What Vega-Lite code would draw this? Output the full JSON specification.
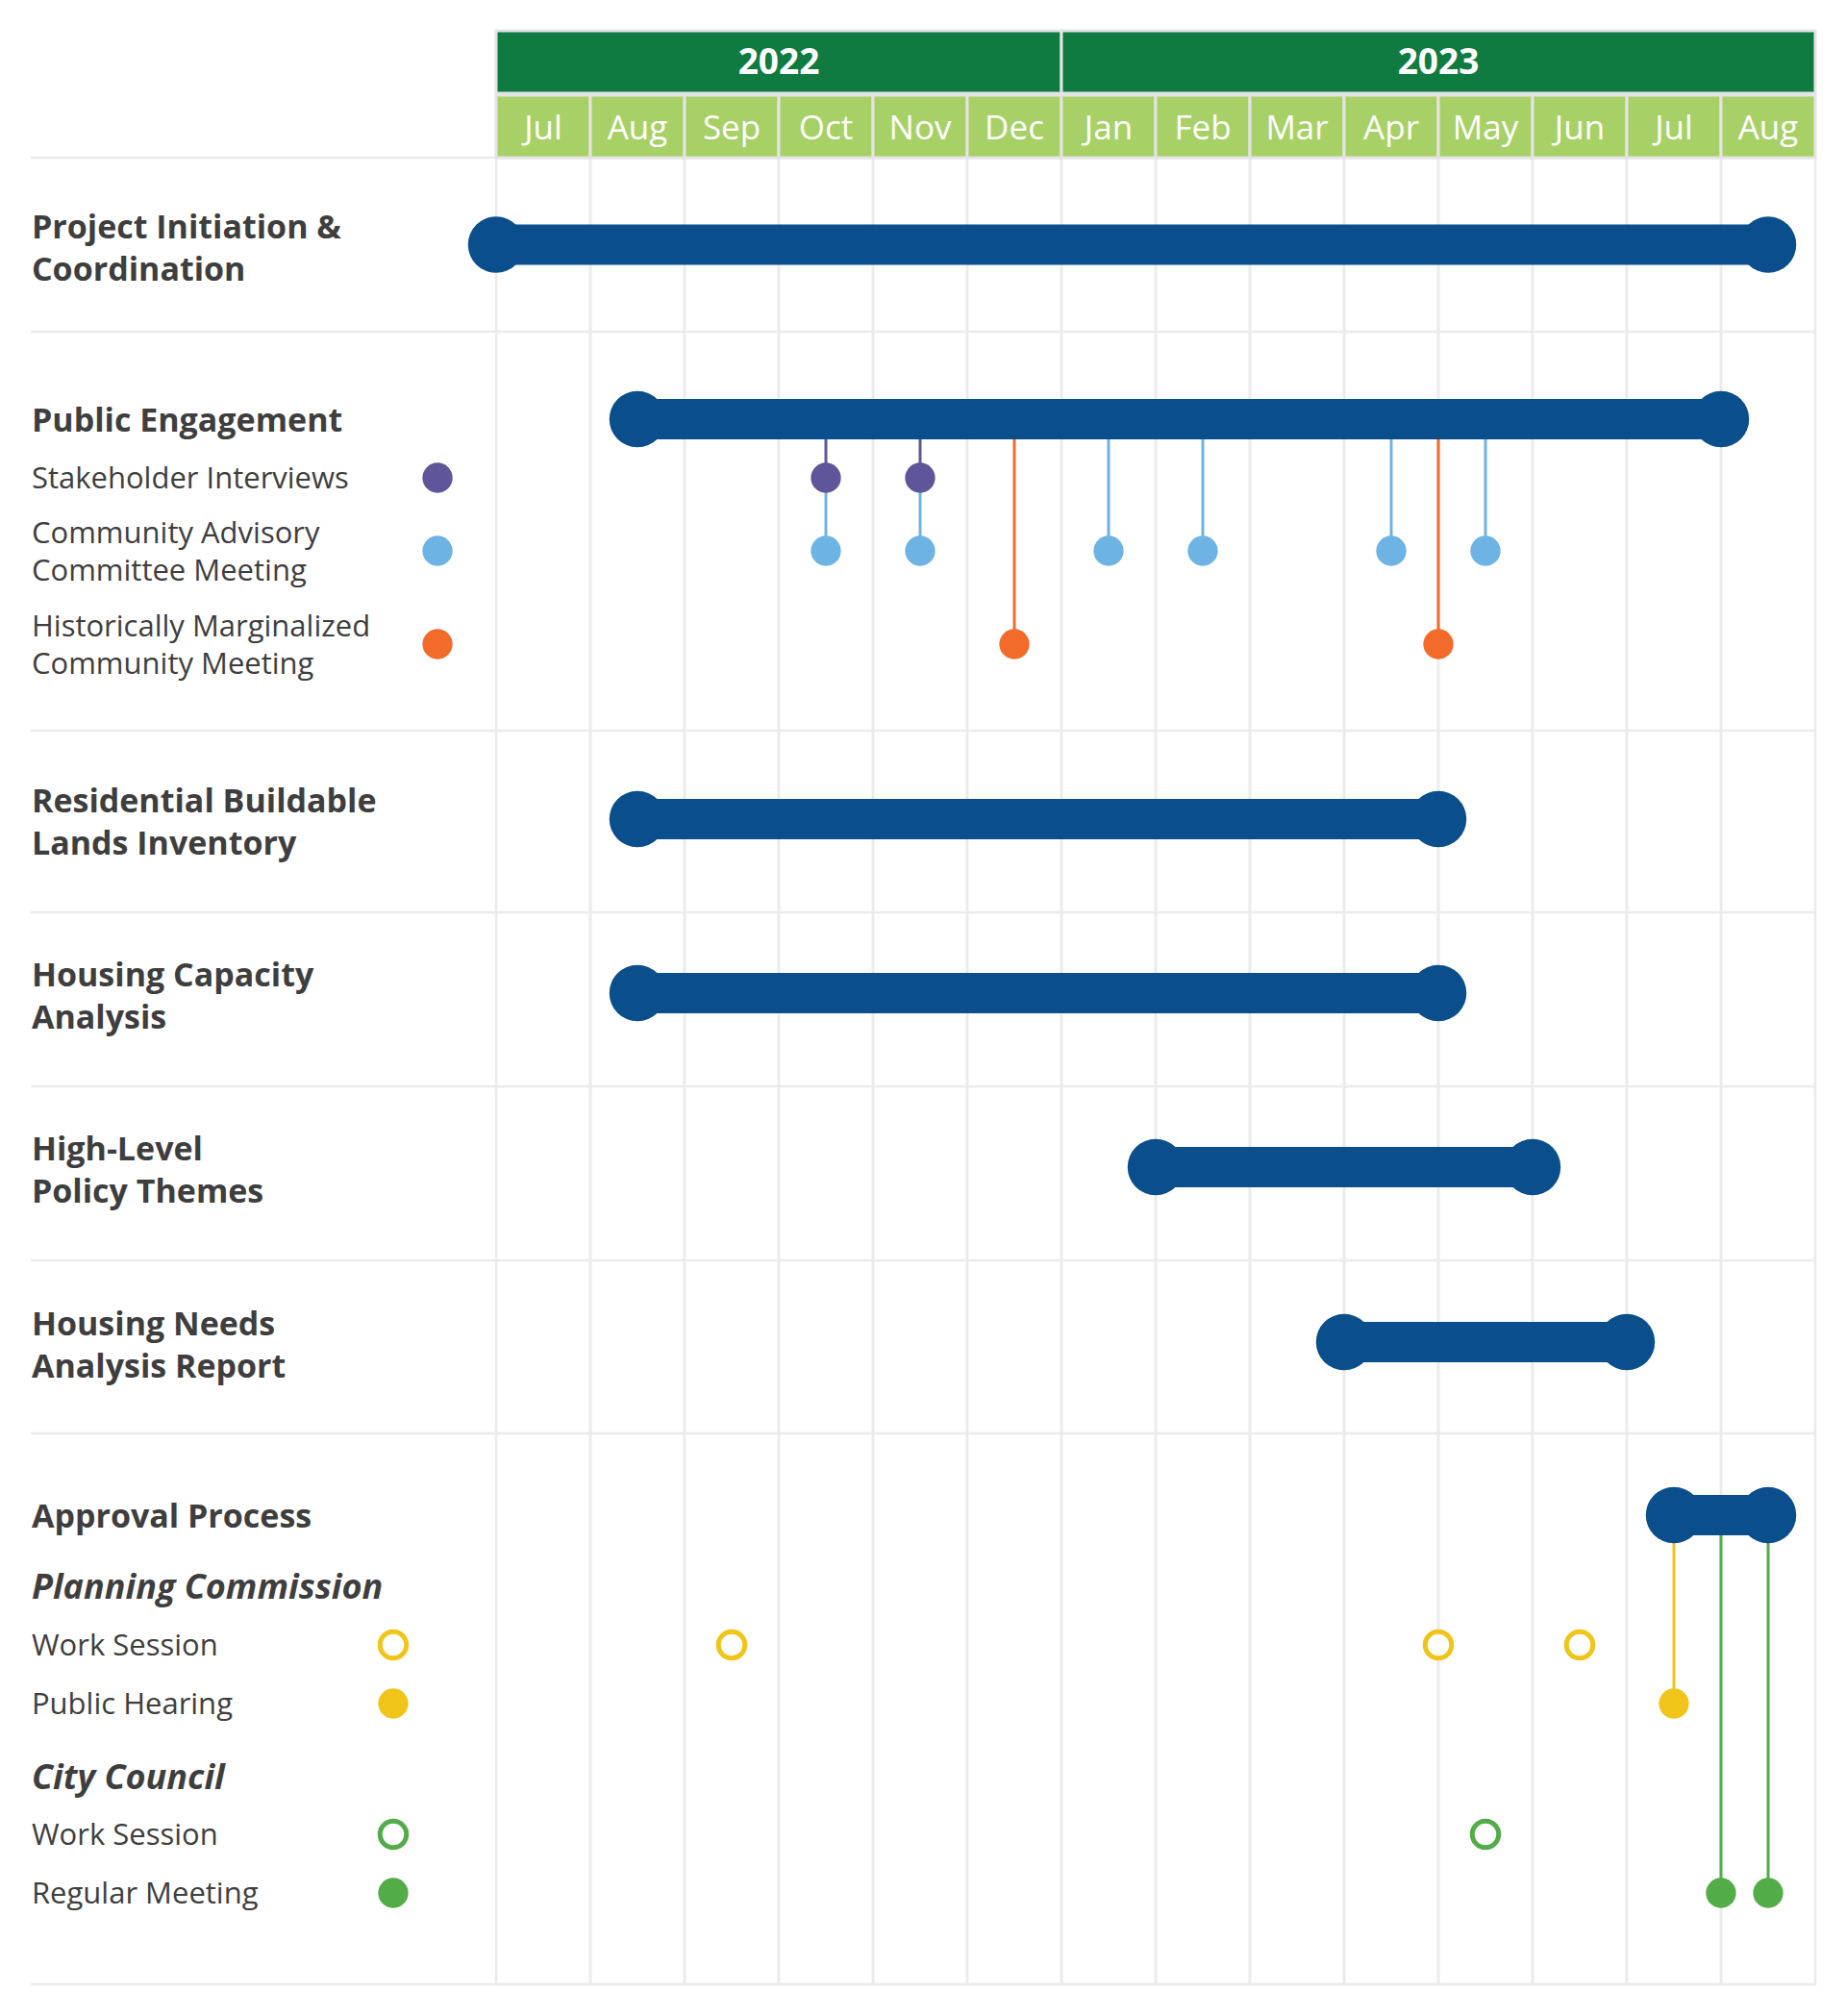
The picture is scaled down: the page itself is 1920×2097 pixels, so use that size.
{
  "$schema": "https://vega.github.io/schema/vega-lite/v6.json",
  "width": 1920,
  "height": 2097,
  "autosize": {"type": "fit", "contains": "padding"},
  "padding": 0,
  "background": "white",
  "config": {"view": {"stroke": null}, "font": "Open Sans"},
  "datasets": {
    "years": [
      {"year": "2022", "start": 0, "mid": 3, "end": 6},
      {"year": "2023", "start": 6, "mid": 10, "end": 14}
    ],
    "months": [
      {"month": "Jul", "start": 0, "mid": 0.5, "end": 1},
      {"month": "Aug", "start": 1, "mid": 1.5, "end": 2},
      {"month": "Sep", "start": 2, "mid": 2.5, "end": 3},
      {"month": "Oct", "start": 3, "mid": 3.5, "end": 4},
      {"month": "Nov", "start": 4, "mid": 4.5, "end": 5},
      {"month": "Dec", "start": 5, "mid": 5.5, "end": 6},
      {"month": "Jan", "start": 6, "mid": 6.5, "end": 7},
      {"month": "Feb", "start": 7, "mid": 7.5, "end": 8},
      {"month": "Mar", "start": 8, "mid": 8.5, "end": 9},
      {"month": "Apr", "start": 9, "mid": 9.5, "end": 10},
      {"month": "May", "start": 10, "mid": 10.5, "end": 11},
      {"month": "Jun", "start": 11, "mid": 11.5, "end": 12},
      {"month": "Jul", "start": 12, "mid": 12.5, "end": 13},
      {"month": "Aug", "start": 13, "mid": 13.5, "end": 14}
    ],
    "separators": [
      {"lane": 5}, {"lane": 7}, {"lane": 12}, {"lane": 14}, {"lane": 16}, {"lane": 18}, {"lane": 20}, {"lane": 28}
    ],
    "tasks": [
      {"task": "Project Initiation & Coordination", "lane": 6, "start": 0, "end": 13.5},
      {"task": "Public Engagement", "lane": 8, "start": 1.5, "end": 13},
      {"task": "Residential Buildable Lands Inventory", "lane": 13, "start": 1.5, "end": 10},
      {"task": "Housing Capacity Analysis", "lane": 15, "start": 1.5, "end": 10},
      {"task": "High-Level Policy Themes", "lane": 17, "start": 7, "end": 11},
      {"task": "Housing Needs Analysis Report", "lane": 19, "start": 9, "end": 12},
      {"task": "Approval Process", "lane": 21, "start": 12.5, "end": 13.5}
    ],
    "events": [
      {"series": "Stakeholder Interviews", "month": 3.5, "lane": 9, "from": 8},
      {"series": "Stakeholder Interviews", "month": 4.5, "lane": 9, "from": 8},
      {"series": "Community Advisory Committee Meeting", "month": 3.5, "lane": 10, "from": 9},
      {"series": "Community Advisory Committee Meeting", "month": 4.5, "lane": 10, "from": 9},
      {"series": "Community Advisory Committee Meeting", "month": 6.5, "lane": 10, "from": 8},
      {"series": "Community Advisory Committee Meeting", "month": 7.5, "lane": 10, "from": 8},
      {"series": "Community Advisory Committee Meeting", "month": 9.5, "lane": 10, "from": 8},
      {"series": "Community Advisory Committee Meeting", "month": 10.5, "lane": 10, "from": 8},
      {"series": "Historically Marginalized Community Meeting", "month": 5.5, "lane": 11, "from": 8},
      {"series": "Historically Marginalized Community Meeting", "month": 10, "lane": 11, "from": 8},
      {"series": "Planning Commission Work Session", "month": 2.5, "lane": 23},
      {"series": "Planning Commission Work Session", "month": 10, "lane": 23},
      {"series": "Planning Commission Work Session", "month": 11.5, "lane": 23},
      {"series": "Planning Commission Public Hearing", "month": 12.5, "lane": 24, "from": 21},
      {"series": "City Council Work Session", "month": 10.5, "lane": 26},
      {"series": "City Council Regular Meeting", "month": 13, "lane": 27, "from": 21},
      {"series": "City Council Regular Meeting", "month": 13.5, "lane": 27, "from": 21}
    ],
    "labels": [
      {"label": "Project Initiation &\nCoordination", "lane": 6, "level": "task", "section": "Project Initiation & Coordination"},
      {"label": "Public Engagement", "lane": 8, "level": "task", "section": "Public Engagement"},
      {"label": "Stakeholder Interviews", "lane": 9, "level": "item", "section": "Public Engagement", "series": "Stakeholder Interviews"},
      {"label": "Community Advisory\nCommittee Meeting", "lane": 10, "level": "item", "section": "Public Engagement", "series": "Community Advisory Committee Meeting"},
      {"label": "Historically Marginalized\nCommunity Meeting", "lane": 11, "level": "item", "section": "Public Engagement", "series": "Historically Marginalized Community Meeting"},
      {"label": "Residential Buildable\nLands Inventory", "lane": 13, "level": "task", "section": "Residential Buildable Lands Inventory"},
      {"label": "Housing Capacity\nAnalysis", "lane": 15, "level": "task", "section": "Housing Capacity Analysis"},
      {"label": "High-Level\nPolicy Themes", "lane": 17, "level": "task", "section": "High-Level Policy Themes"},
      {"label": "Housing Needs\nAnalysis Report", "lane": 19, "level": "task", "section": "Housing Needs Analysis Report"},
      {"label": "Approval Process", "lane": 21, "level": "task", "section": "Approval Process"},
      {"label": "Planning Commission", "lane": 22, "level": "group", "section": "Approval Process"},
      {"label": "Work Session", "lane": 23, "level": "item", "section": "Approval Process", "series": "Planning Commission Work Session"},
      {"label": "Public Hearing", "lane": 24, "level": "item", "section": "Approval Process", "series": "Planning Commission Public Hearing"},
      {"label": "City Council", "lane": 25, "level": "group", "section": "Approval Process"},
      {"label": "Work Session", "lane": 26, "level": "item", "section": "Approval Process", "series": "City Council Work Session"},
      {"label": "Regular Meeting", "lane": 27, "level": "item", "section": "Approval Process", "series": "City Council Regular Meeting"}
    ]
  },
  "layer": [
    {
      "data": {"name": "months"},
      "mark": {"type": "rect", "fill": "transparent", "stroke": "#EBEBEB", "strokeWidth": 2.5},
      "encoding": {
        "x": {"field": "start", "type": "quantitative", "scale": {"domain": [-5.2653, 14.3265], "nice": false, "zero": false}, "axis": null},
        "x2": {"field": "end"},
        "y": {"datum": 5, "type": "quantitative", "scale": {"domain": [0,1,2,3,4,5,6,7,8,9,10,11,12,13,14,15,16,17,18,19,20,21,22,23,24,25,26,27,28], "range": [32,64.5,97,99,131.5,164,254.5,345,436,497,573,670,760,852,949,1033,1130,1214,1311,1396,1491,1576,1650,1711,1772,1848,1908,1969,2064], "nice": false, "zero": false}, "axis": null},
        "y2": {"datum": 28}
      }
    },
    {
      "data": {"name": "separators"},
      "mark": {"type": "rule", "stroke": "#EBEBEB", "strokeWidth": 2.5},
      "encoding": {
        "x": {"datum": -4.939, "type": "quantitative"},
        "x2": {"datum": 14},
        "y": {"field": "lane", "type": "quantitative"}
      }
    },
    {
      "data": {"name": "years"},
      "mark": {"type": "rect", "fill": "#0F7B40", "stroke": "#E4E4E4", "strokeWidth": 3},
      "encoding": {
        "x": {"field": "start", "type": "quantitative"},
        "x2": {"field": "end"},
        "y": {"datum": 0, "type": "quantitative"},
        "y2": {"datum": 2}
      }
    },
    {
      "data": {"name": "months"},
      "mark": {"type": "rect", "fill": "#A7D166", "stroke": "#E4E4E4", "strokeWidth": 3},
      "encoding": {
        "x": {"field": "start", "type": "quantitative"},
        "x2": {"field": "end"},
        "y": {"datum": 3, "type": "quantitative"},
        "y2": {"datum": 5}
      }
    },
    {
      "data": {"name": "years"},
      "mark": {"type": "text", "color": "white", "fontWeight": "bold", "fontSize": 37, "align": "center", "baseline": "middle", "dy": 1.5},
      "encoding": {
        "x": {"field": "mid", "type": "quantitative"},
        "y": {"datum": 1, "type": "quantitative"},
        "text": {"field": "year"}
      }
    },
    {
      "data": {"name": "months"},
      "mark": {"type": "text", "color": "white", "fontSize": 35, "align": "center", "baseline": "middle", "dy": 2.5},
      "encoding": {
        "x": {"field": "mid", "type": "quantitative"},
        "y": {"datum": 4, "type": "quantitative"},
        "text": {"field": "month"}
      }
    },
    {
      "data": {"name": "events"},
      "transform": [{"filter": "isValid(datum.from)"}],
      "mark": {"type": "rule", "strokeWidth": 3},
      "encoding": {
        "x": {"field": "month", "type": "quantitative"},
        "y": {"field": "from", "type": "quantitative"},
        "y2": {"field": "lane"},
        "color": {"field": "series", "type": "nominal", "legend": null, "scale": {"domain": ["Stakeholder Interviews", "Community Advisory Committee Meeting", "Historically Marginalized Community Meeting", "Planning Commission Work Session", "Planning Commission Public Hearing", "City Council Work Session", "City Council Regular Meeting"], "range": ["#5E5699", "#6DB3E3", "#F26B2A", "#F0C419", "#F0C419", "#52AC48", "#52AC48"]}}
      }
    },
    {
      "data": {"name": "tasks"},
      "mark": {"type": "rule", "color": "#0A4F8B", "strokeWidth": 42, "strokeCap": "butt"},
      "encoding": {
        "x": {"field": "start", "type": "quantitative"},
        "x2": {"field": "end"},
        "y": {"field": "lane", "type": "quantitative"}
      }
    },
    {
      "data": {"name": "tasks"},
      "mark": {"type": "point", "shape": "circle", "filled": true, "opacity": 1, "color": "#0A4F8B", "size": 3421},
      "encoding": {
        "x": {"field": "start", "type": "quantitative"},
        "y": {"field": "lane", "type": "quantitative"}
      }
    },
    {
      "data": {"name": "tasks"},
      "mark": {"type": "point", "shape": "circle", "filled": true, "opacity": 1, "color": "#0A4F8B", "size": 3421},
      "encoding": {
        "x": {"field": "end", "type": "quantitative"},
        "y": {"field": "lane", "type": "quantitative"}
      }
    },
    {
      "data": {"name": "events"},
      "transform": [{"filter": "datum.series !== 'Planning Commission Work Session' && datum.series !== 'City Council Work Session'"}],
      "mark": {"type": "point", "shape": "circle", "filled": true, "opacity": 1, "size": 980},
      "encoding": {
        "x": {"field": "month", "type": "quantitative"},
        "y": {"field": "lane", "type": "quantitative"},
        "color": {"field": "series", "type": "nominal", "legend": null}
      }
    },
    {
      "data": {"name": "events"},
      "transform": [{"filter": "datum.series === 'Planning Commission Work Session' || datum.series === 'City Council Work Session'"}],
      "mark": {"type": "point", "shape": "circle", "filled": false, "fill": "white", "opacity": 1, "size": 755, "strokeWidth": 5},
      "encoding": {
        "x": {"field": "month", "type": "quantitative"},
        "y": {"field": "lane", "type": "quantitative"},
        "stroke": {"field": "series", "type": "nominal", "legend": null, "scale": {"domain": ["Stakeholder Interviews", "Community Advisory Committee Meeting", "Historically Marginalized Community Meeting", "Planning Commission Work Session", "Planning Commission Public Hearing", "City Council Work Session", "City Council Regular Meeting"], "range": ["#5E5699", "#6DB3E3", "#F26B2A", "#F0C419", "#F0C419", "#52AC48", "#52AC48"]}}
      }
    },
    {
      "data": {"name": "labels"},
      "transform": [{"filter": "datum.section === 'Public Engagement' && isValid(datum.series)"}],
      "mark": {"type": "point", "shape": "circle", "filled": true, "opacity": 1, "size": 980},
      "encoding": {
        "x": {"datum": -0.622, "type": "quantitative"},
        "y": {"field": "lane", "type": "quantitative"},
        "color": {"field": "series", "type": "nominal", "legend": null}
      }
    },
    {
      "data": {"name": "labels"},
      "transform": [{"filter": "datum.series === 'Planning Commission Public Hearing' || datum.series === 'City Council Regular Meeting'"}],
      "mark": {"type": "point", "shape": "circle", "filled": true, "opacity": 1, "size": 980},
      "encoding": {
        "x": {"datum": -1.092, "type": "quantitative"},
        "y": {"field": "lane", "type": "quantitative"},
        "color": {"field": "series", "type": "nominal", "legend": null}
      }
    },
    {
      "data": {"name": "labels"},
      "transform": [{"filter": "datum.series === 'Planning Commission Work Session' || datum.series === 'City Council Work Session'"}],
      "mark": {"type": "point", "shape": "circle", "filled": false, "fill": "white", "opacity": 1, "size": 755, "strokeWidth": 5},
      "encoding": {
        "x": {"datum": -1.092, "type": "quantitative"},
        "y": {"field": "lane", "type": "quantitative"},
        "stroke": {"field": "series", "type": "nominal", "legend": null}
      }
    },
    {
      "data": {"name": "labels"},
      "transform": [{"filter": "datum.level === 'task' && indexof(datum.label, '\\n') < 0"}],
      "mark": {"type": "text", "align": "left", "baseline": "middle", "fontSize": 34, "fontWeight": "bold", "color": "#3E3E3E", "dy": 2.5},
      "encoding": {
        "x": {"datum": -4.929, "type": "quantitative"},
        "y": {"field": "lane", "type": "quantitative"},
        "text": {"field": "label"}
      }
    },
    {
      "data": {"name": "labels"},
      "transform": [{"filter": "datum.level === 'task' && indexof(datum.label, '\\n') >= 0"}],
      "mark": {"type": "text", "align": "left", "baseline": "middle", "fontSize": 34, "fontWeight": "bold", "color": "#3E3E3E", "lineBreak": "\n", "lineHeight": 44, "dy": -17},
      "encoding": {
        "x": {"datum": -4.929, "type": "quantitative"},
        "y": {"field": "lane", "type": "quantitative"},
        "text": {"field": "label"}
      }
    },
    {
      "data": {"name": "labels"},
      "transform": [{"filter": "datum.level === 'group'"}],
      "mark": {"type": "text", "align": "left", "baseline": "middle", "fontSize": 36, "fontWeight": "bold", "fontStyle": "italic", "color": "#3E3E3E", "dy": 1.5},
      "encoding": {
        "x": {"datum": -4.929, "type": "quantitative"},
        "y": {"field": "lane", "type": "quantitative"},
        "text": {"field": "label"}
      }
    },
    {
      "data": {"name": "labels"},
      "transform": [{"filter": "datum.level === 'item' && indexof(datum.label, '\\n') < 0"}],
      "mark": {"type": "text", "align": "left", "baseline": "middle", "fontSize": 31, "color": "#3E3E3E", "dy": 1.5},
      "encoding": {
        "x": {"datum": -4.929, "type": "quantitative"},
        "y": {"field": "lane", "type": "quantitative"},
        "text": {"field": "label"}
      }
    },
    {
      "data": {"name": "labels"},
      "transform": [{"filter": "datum.level === 'item' && indexof(datum.label, '\\n') >= 0"}],
      "mark": {"type": "text", "align": "left", "baseline": "middle", "fontSize": 31, "color": "#3E3E3E", "lineBreak": "\n", "lineHeight": 38.5, "dy": -17},
      "encoding": {
        "x": {"datum": -4.929, "type": "quantitative"},
        "y": {"field": "lane", "type": "quantitative"},
        "text": {"field": "label"}
      }
    }
  ]
}
